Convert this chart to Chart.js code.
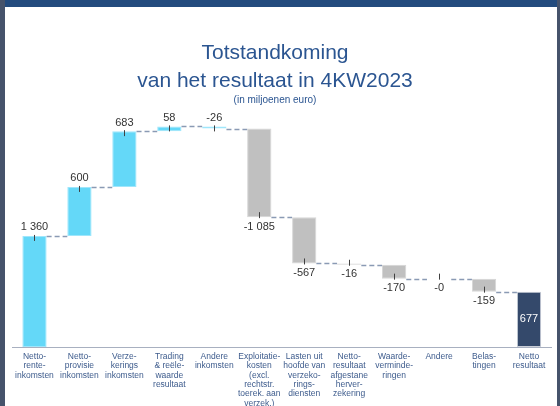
<!DOCTYPE html>
<html>
<head>
<meta charset="utf-8">
<script src="https://cdn.jsdelivr.net/npm/chart.js@4.4.1/dist/chart.umd.min.js"></script>
<style>
  html, body { margin: 0; padding: 0; background: #ffffff; }
  #frame { position: relative; width: 560px; height: 406px; background: #ffffff; overflow: hidden; font-family: "Liberation Sans", Arial, sans-serif; }
  #topbar { position: absolute; left: 0; top: 0; width: 560px; height: 7px; background: #234b7e; }
  #leftbar { position: absolute; left: 0; top: 0; width: 5px; height: 406px; background: #46536b; }
  #rightbar { position: absolute; left: 557px; top: 0; width: 3px; height: 406px; background: #46536b; }
  .t { position: absolute; left: 0; width: 550px; text-align: center; color: #2b5591; white-space: nowrap; z-index: 2; }
  #t1 { top: 39px; font-size: 21px; line-height: 26px; }
  #t2 { top: 67px; font-size: 21px; line-height: 26px; }
  #t3 { top: 93px; font-size: 10px; line-height: 14px; }
  #wrap { position: absolute; left: 0; top: 0; width: 560px; height: 406px; z-index: 1; }
</style>
</head>
<body>
<div id="frame">
  <div id="wrap"><canvas id="c" width="560" height="406"></canvas></div>
  <div id="topbar"></div>
  <div id="leftbar"></div>
  <div id="rightbar"></div>
  <div class="t" id="t1">Totstandkoming</div>
  <div class="t" id="t2">van het resultaat in 4KW2023</div>
  <div class="t" id="t3">(in miljoenen euro)</div>
</div>
<script>
// ---- data ----
const categories = [
  ["Netto-", "rente-", "inkomsten"],
  ["Netto-", "provisie", "inkomsten"],
  ["Verze-", "kerings", "inkomsten"],
  ["Trading", "& reële-", "waarde", "resultaat"],
  ["Andere", "inkomsten"],
  ["Exploitatie-", "kosten", "(excl.", "rechtstr.", "toerek. aan", "verzek.)"],
  ["Lasten uit", "hoofde van", "verzeko-", "rings-", "diensten"],
  ["Netto-", "resultaat", "afgestane", "herver-", "zekering"],
  ["Waarde-", "verminde-", "ringen"],
  ["Andere"],
  ["Belas-", "tingen"],
  ["Netto", "resultaat"]
];
const changes = [1360, 600, 683, 58, -26, -1085, -567, -16, -170, 0, -159];
const netResult = 677;
const valueLabels = ["1 360", "600", "683", "58", "-26", "-1 085", "-567", "-16", "-170", "-0", "-159", "677"];
const barKinds = ["inc", "inc", "inc", "inc", "inc", "cost", "cost", "cost", "cost", "cost", "cost", "total"];

// ---- build floating bars ----
const ranges = [];
let run = 0;
changes.forEach(v => { ranges.push([run, run + v]); run += v; });
ranges.push([0, netResult]);

const fill = { inc: "#64d8f8", cost: "#c0c0c0", total: "#34496b" };
const edge = { inc: "#9fe6fb", cost: "#d6d6d6", total: "#c9ced8" };

const decor = {
  id: "decor",
  afterDatasetsDraw(chart) {
    const ctx = chart.ctx;
    const meta = chart.getDatasetMeta(0);
    const y = chart.scales.y;
    ctx.save();
    // connectors
    ctx.strokeStyle = "#8a9ab4";
    ctx.lineWidth = 1.5;
    ctx.setLineDash([5, 3]);
    for (let i = 0; i < meta.data.length - 1; i++) {
      const a = meta.data[i], b = meta.data[i + 1];
      const level = ranges[i][1];
      const py = Math.round(y.getPixelForValue(level)) + 0.5;
      ctx.beginPath();
      ctx.moveTo(a.x + a.width / 2, py);
      ctx.lineTo(b.x - b.width / 2, py);
      ctx.stroke();
    }
    ctx.setLineDash([]);
    // ticks + labels
    ctx.font = "11px 'Liberation Sans', Arial, sans-serif";
    ctx.textAlign = "center";
    ctx.textBaseline = "middle";
    meta.data.forEach((bar, i) => {
      const [s, e] = ranges[i];
      const kind = barKinds[i];
      const x = Math.round(bar.x) + 0.5;
      if (kind === "total") {
        ctx.fillStyle = "#ffffff";
        ctx.fillText(valueLabels[i], bar.x, (y.getPixelForValue(s) + y.getPixelForValue(e)) / 2);
        return;
      }
      const up = kind === "inc";
      const endPx = y.getPixelForValue(up ? Math.max(s, e) : Math.min(s, e));
      ctx.strokeStyle = "#404040";
      ctx.lineWidth = 1;
      ctx.beginPath();
      if (up) { ctx.moveTo(x, endPx - 1); ctx.lineTo(x, endPx + 5); }
      else { ctx.moveTo(x, endPx + 1); ctx.lineTo(x, endPx - 5); }
      ctx.stroke();
      ctx.fillStyle = "#333333";
      ctx.fillText(valueLabels[i], bar.x, up ? endPx - 8.5 : endPx + 9.5);
    });
    ctx.restore();
  }
};

new Chart(document.getElementById("c"), {
  type: "bar",
  data: {
    labels: categories,
    datasets: [{
      data: ranges,
      backgroundColor: barKinds.map(k => fill[k]),
      borderColor: barKinds.map(k => edge[k]),
      borderWidth: 1,
      borderSkipped: false,
      categoryPercentage: 1,
      barPercentage: 0.54
    }]
  },
  options: {
    responsive: false,
    animation: false,
    devicePixelRatio: 1,
    layout: { padding: { left: 12, right: 8.5, top: 102, bottom: 0 } },
    plugins: { legend: { display: false }, tooltip: { enabled: false }, title: { display: false } },
    scales: {
      y: { display: false, min: 0, max: 3000 },
      x: {
        grid: { display: false, drawTicks: false },
        border: { display: true, color: "#a8b0c0", width: 1 },
        ticks: {
          autoSkip: false, maxRotation: 0, minRotation: 0, padding: 5,
          color: "#3d5b8c",
          font: { family: "'Liberation Sans', Arial, sans-serif", size: 8.5, lineHeight: 1.1 }
        },
        afterFit(axis) { axis.height = 59; }
      }
    }
  },
  plugins: [decor]
});
</script>
</body>
</html>
